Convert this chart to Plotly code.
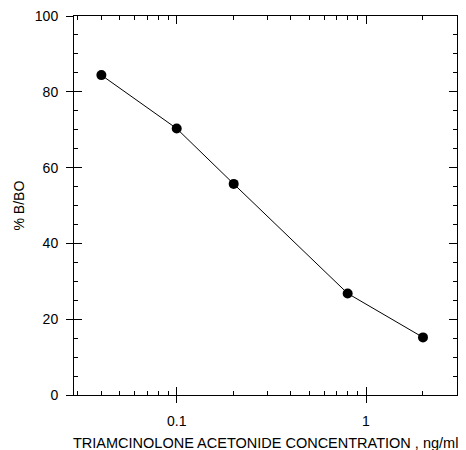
import plotly.graph_objects as go

concentration = [0.04, 0.1, 0.2, 0.8, 2.0]
pct_b_bo = [84.4, 70.3, 55.7, 26.8, 15.2]

x_major_vals = [0.1, 1]
x_major_text = ["0.1", "1"]
x_minor_vals = [0.03, 0.04, 0.05, 0.06, 0.07, 0.08, 0.09,
                0.2, 0.3, 0.4, 0.5, 0.6, 0.7, 0.8, 0.9, 2]
y_major_vals = [0, 20, 40, 60, 80, 100]

x_title = "TRIAMCINOLONE ACETONIDE CONCENTRATION , ng/ml"
y_title = "% B/BO"

x_range = [-1.5425, 0.4807]
y_range = [0, 100]

FAM = "Liberation Sans, Arial, sans-serif"
font = dict(family=FAM, size=14, color="black")

fig = go.Figure()
fig.add_trace(go.Scatter(
    x=concentration, y=pct_b_bo, mode="lines+markers",
    line=dict(color="black", width=1),
    marker=dict(color="black", size=10),
    showlegend=False, hoverinfo="x+y"))
fig.add_trace(go.Scatter(
    x=concentration, y=pct_b_bo, mode="markers", xaxis="x2", yaxis="y2",
    marker=dict(opacity=0), showlegend=False, hoverinfo="skip"))

# page body has an 8px default margin, so the figure margins compensate
fig.update_layout(
    width=466, height=450,
    margin=dict(l=66, r=17, t=8, b=63, autoexpand=False),
    paper_bgcolor="white", plot_bgcolor="white",
    font=font,
    xaxis=dict(
        type="log", range=x_range, showgrid=False, zeroline=False,
        automargin=False,
        showline=True, linecolor="black", linewidth=1, mirror="ticks",
        tickmode="array", tickvals=x_major_vals, ticktext=x_major_text,
        ticks="inside", ticklen=8, tickwidth=1, tickcolor="black",
        showticklabels=False,
        minor=dict(tickmode="array", tickvals=x_minor_vals, ticks="inside",
                   ticklen=4, tickwidth=1, tickcolor="black", showgrid=False),
    ),
    xaxis2=dict(
        type="log", range=x_range, overlaying="x", anchor="y", side="bottom",
        automargin=False,
        showgrid=False, zeroline=False, showline=False,
        tickmode="array", tickvals=x_major_vals, ticktext=x_major_text,
        ticks="outside", ticklen=7, tickwidth=1, tickcolor="black",
        showticklabels=True, tickfont=font, ticklabelstandoff=6,
        ticklabeloverflow="allow",
    ),
    yaxis=dict(
        range=y_range, showgrid=False, zeroline=False,
        automargin=False,
        showline=True, linecolor="black", linewidth=1, mirror="ticks",
        tickmode="array", tickvals=y_major_vals,
        ticks="inside", ticklen=8, tickwidth=1, tickcolor="black",
        showticklabels=False,
        minor=dict(dtick=5, ticks="inside", ticklen=4, tickwidth=1,
                   tickcolor="black", showgrid=False),
    ),
    yaxis2=dict(
        range=y_range, overlaying="y", anchor="x", side="left",
        automargin=False,
        showgrid=False, zeroline=False, showline=False,
        tickmode="array", tickvals=y_major_vals,
        ticks="outside", ticklen=7, tickwidth=1, tickcolor="black",
        showticklabels=True, tickfont=font, ticklabelstandoff=5,
        ticklabeloverflow="allow",
    ),
    annotations=[
        dict(text=x_title, xref="paper", yref="paper", x=0.5, y=(395 - 443) / 379,
             xanchor="center", yanchor="middle", showarrow=False,
             font=dict(family=FAM, size=14.5, color="black")),
        dict(text=y_title, xref="paper", yref="paper", x=(18 - 74) / 383, y=0.5,
             xanchor="center", yanchor="middle", textangle=-90, showarrow=False,
             font=dict(family=FAM, size=14, color="black")),
    ],
)

fig.write_html("out.html")
